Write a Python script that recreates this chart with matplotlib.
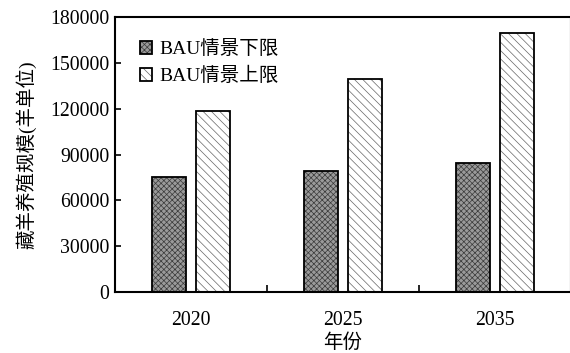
import matplotlib
matplotlib.use("Agg")
import matplotlib.pyplot as plt
import numpy as np

plt.rcParams['font.family'] = ['Liberation Serif', 'Noto Sans CJK SC']
plt.rcParams['hatch.linewidth'] = 0.5

years = ['2020', '2025', '2035']
lower = [75000, 79500, 84500]
upper = [118500, 139500, 169500]
series_names = ['BAU情景下限', 'BAU情景上限']
yticks = [0, 30000, 60000, 90000, 120000, 150000, 180000]

fig = plt.figure(figsize=(5.7, 3.53), dpi=100)
ax = fig.add_axes([115 / 570, 61 / 353, 456 / 570, 275 / 353])

x = np.arange(len(years))
w = 0.225
off = 0.145
b1 = ax.bar(x - off, lower, width=w, facecolor='#9a9a9a', edgecolor='black',
            linewidth=1.3, hatch='xxxxxx', label=series_names[0])
b2 = ax.bar(x + off, upper, width=w, facecolor='white', edgecolor='black',
            linewidth=1.3, hatch='\\\\\\\\', label=series_names[1])
for p in b1:
    p._hatch_color = matplotlib.colors.to_rgba('#3a3a3a')
for p in b2:
    p._hatch_color = matplotlib.colors.to_rgba('#666666')

ax.set_xlim(-0.5, 2.5)
ax.set_ylim(0, 180000)
ax.set_yticks(yticks)
ax.set_yticklabels([str(v) for v in yticks])
ax.set_xticks(x)
ax.set_xticklabels(years)
ax.set_xticks([0.5, 1.5], minor=True)
ax.tick_params(axis='x', which='major', length=0, pad=14, labelsize=14.2)
ax.tick_params(axis='x', which='minor', direction='in', length=5, width=1.2)
ax.tick_params(axis='y', direction='in', length=4, width=1.2, pad=4, labelsize=14.2)

for s in ['top', 'left', 'bottom', 'right']:
    ax.spines[s].set_linewidth(1.5)

ax.set_xlabel('年份', fontsize=14, labelpad=2)
ax.set_ylabel('藏羊养殖规模(羊单位)', fontsize=14, labelpad=10)

ax.legend(loc='upper left', bbox_to_anchor=(0.055, 0.915), frameon=False,
          fontsize=14, handlelength=0.6, handleheight=0.6,
          handletextpad=0.4, labelspacing=0.45, borderpad=0, borderaxespad=0)

fig.savefig('out.png', dpi=100)
